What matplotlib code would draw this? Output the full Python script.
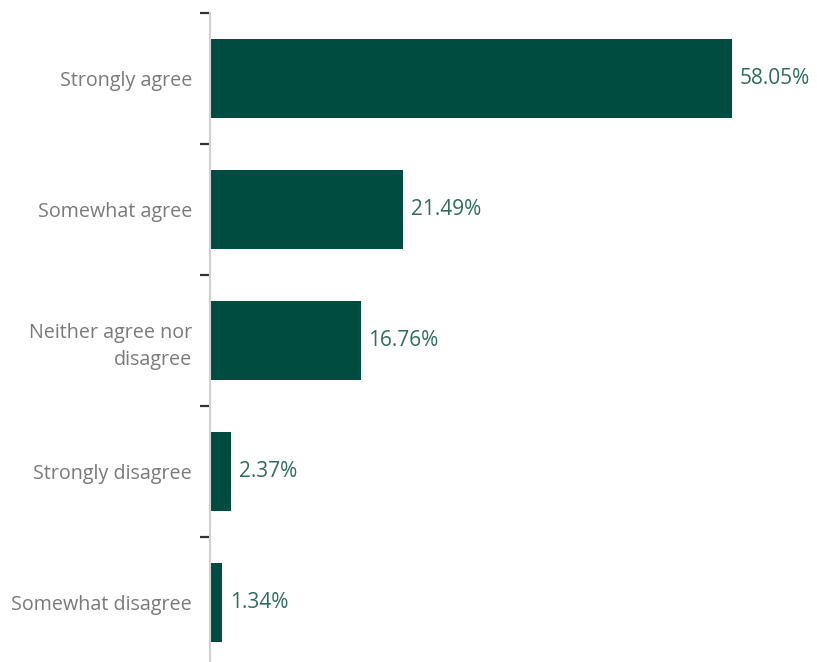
import matplotlib
matplotlib.use("Agg")
import matplotlib.pyplot as plt

categories = ["Strongly agree", "Somewhat agree", "Neither agree nor\ndisagree",
              "Strongly disagree", "Somewhat disagree"]
values = [58.05, 21.49, 16.76, 2.37, 1.34]
value_labels = ["58.05%", "21.49%", "16.76%", "2.37%", "1.34%"]

plt.rcParams['font.family'] = ['Open Sans', 'DejaVu Sans']

W, H = 817, 662
fig = plt.figure(figsize=(W / 100, H / 100), dpi=100)
left_px, right_px, top_px, bot_px = 210, 810, 13, 668
ax = fig.add_axes([left_px / W, 1 - bot_px / H, (right_px - left_px) / W, (bot_px - top_px) / H])

bar_color = "#014C40"
y = list(range(len(categories)))
ax.barh(y, values, height=0.61, color=bar_color)
ax.set_ylim(len(categories) - 0.5, -0.5)
ax.set_xlim(0, (right_px - left_px) / 8.99)

for yi, v, lab in zip(y, values, value_labels):
    ax.annotate(lab, (v, yi), xytext=(5.5, 0), textcoords="offset points",
                va="center", ha="left", fontsize=15, color="#2F6B5F")

ax.set_yticks(y)
ax.set_yticklabels(categories, fontsize=14.2, color="#7a7a7a", linespacing=1.45)
ax.tick_params(axis="y", which="major", length=0, pad=13)
ax.set_yticks([i - 0.5 for i in range(len(categories))], minor=True)
ax.tick_params(axis="y", which="minor", length=7.5, width=1.6, color="#333333", direction="out")
ax.set_xticks([])

for s in ["top", "right", "bottom"]:
    ax.spines[s].set_visible(False)
ax.spines["left"].set_color("#d0d0d0")
ax.spines["left"].set_linewidth(1.5)

fig.savefig("out.png", dpi=100)
